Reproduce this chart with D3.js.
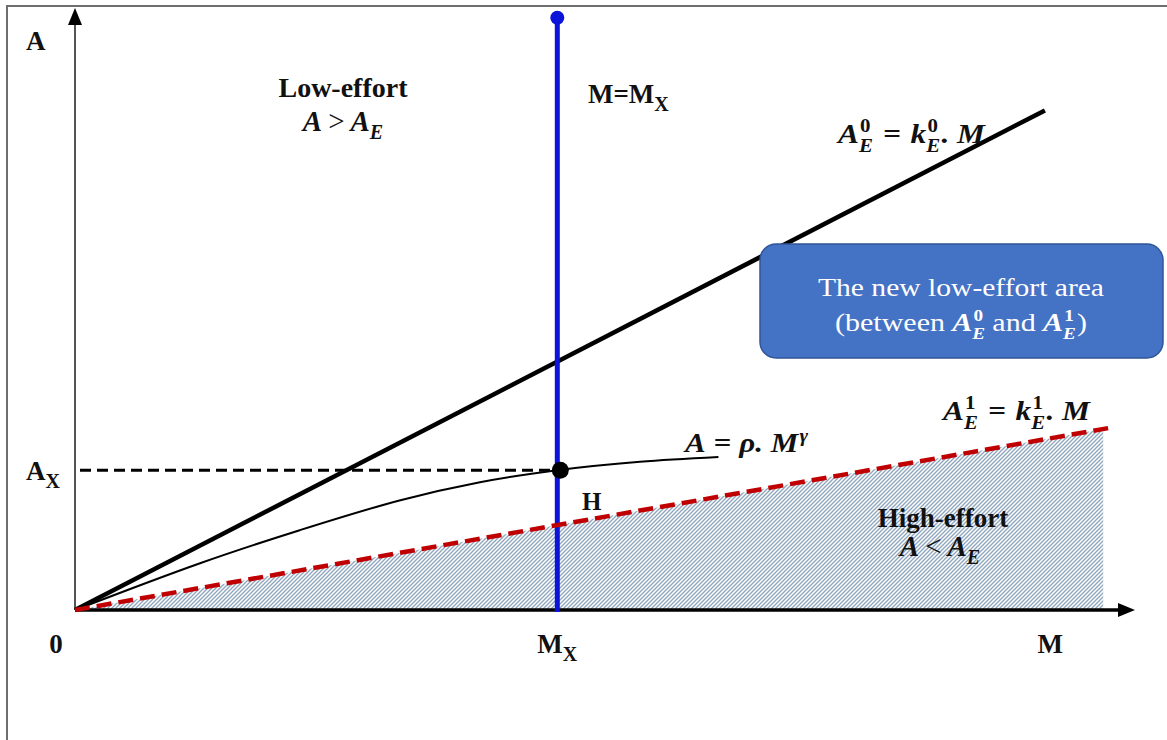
<!DOCTYPE html>
<html>
<head>
<meta charset="utf-8">
<script src="https://cdn.jsdelivr.net/npm/d3@7"></script>
<style>
  html, body { margin: 0; padding: 0; background: #fff; }
  svg { display: block; }
  text { font-family: "Liberation Serif", "Times New Roman", serif; }
</style>
</head>
<body>
<svg id="chart" width="1167" height="740"></svg>
<script>
// ---- values of the diagram (M on the horizontal axis, A on the vertical axis) ----
const axisMax = [10, 10];                 // [M max, A max]
const pointX = [4.55, 2.33];              // [M_X, A_X]
const thresholdSlopes = [0.910, 0.311];   // k_E^0, k_E^1
const thresholdEnds = [9.15, 9.81];       // M where each threshold line stops
const hatchEndM = 9.70;                   // right edge of the high-effort shading
const verticalTopA = 9.87;                // top of the M = M_X line
const curveM = [0, 1.18, 2.12, 3.07, 3.82, 4.55, 5.33, 6.07];
const curveA = [0, 0.78, 1.33, 1.83, 2.13, 2.33, 2.47, 2.55];
const xTickLabels = ["0", "M_X", "M"];

const svg = d3.select("#chart");
const W = 1167, H = 740;

const x = d3.scaleLinear().domain([0, axisMax[0]]).range([75, 1135]);
const y = d3.scaleLinear().domain([0, axisMax[1]]).range([610, 10]);

const defs = svg.append("defs");
const pat = defs.append("pattern")
  .attr("id", "hatch").attr("patternUnits", "userSpaceOnUse")
  .attr("width", 4).attr("height", 4);
pat.append("rect").attr("width", 4).attr("height", 4).attr("fill", "#ffffff");
pat.append("path")
  .attr("d", "M0,4 L4,0 M-1,1 L1,-1 M3,5 L5,3")
  .attr("stroke", "#8da4bd").attr("stroke-width", 1.3);

// outer frame
svg.append("path").attr("d", `M7,${H} L7,6 L${W},6`)
  .attr("fill", "none").attr("stroke", "#6e6e6e").attr("stroke-width", 2);

// high-effort region under A_E^1
const k0 = thresholdSlopes[0], k1 = thresholdSlopes[1];
svg.append("path")
  .datum([0, hatchEndM])
  .attr("d", d3.area().x(d => x(d)).y0(y(0)).y1(d => y(k1 * d)))
  .attr("fill", "url(#hatch)");

// axes
svg.append("line").attr("x1", x(0)).attr("y1", y(0)).attr("x2", x(0)).attr("y2", y(axisMax[1]) + 12)
  .attr("stroke", "#555").attr("stroke-width", 2);
svg.append("path")
  .attr("d", `M${x(0)},${y(axisMax[1]) - 2} L${x(0) - 7},${y(axisMax[1]) + 15} L${x(0) + 7},${y(axisMax[1]) + 15} Z`)
  .attr("fill", "#000");
svg.append("line").attr("x1", x(0)).attr("y1", y(0)).attr("x2", x(axisMax[0]) - 12).attr("y2", y(0))
  .attr("stroke", "#000").attr("stroke-width", 3.5);
svg.append("path")
  .attr("d", `M${x(axisMax[0])},${y(0)} L${x(axisMax[0]) - 17},${y(0) - 7} L${x(axisMax[0]) - 17},${y(0) + 7} Z`)
  .attr("fill", "#000");

const line = d3.line().x(d => x(d[0])).y(d => y(d[1]));

// A_E^0 = k_E^0 . M
svg.append("path").datum([[0, 0], [thresholdEnds[0], k0 * thresholdEnds[0]]])
  .attr("d", line).attr("fill", "none").attr("stroke", "#000").attr("stroke-width", 4.5);

// A = rho . M^gamma
svg.append("path").datum(curveM.map((m, i) => [m, curveA[i]]))
  .attr("d", d3.line().x(d => x(d[0])).y(d => y(d[1])).curve(d3.curveCatmullRom.alpha(0.5)))
  .attr("fill", "none").attr("stroke", "#000").attr("stroke-width", 2);

// dashed guide at A_X
svg.append("line").attr("x1", x(0) + 5).attr("x2", x(pointX[0])).attr("y1", y(pointX[1])).attr("y2", y(pointX[1]))
  .attr("stroke", "#000").attr("stroke-width", 3).attr("stroke-dasharray", "11,6");

// M = M_X
svg.append("line").attr("x1", x(pointX[0])).attr("x2", x(pointX[0]))
  .attr("y1", y(0) + 2).attr("y2", y(verticalTopA))
  .attr("stroke", "#0b14d8").attr("stroke-width", 5);
svg.append("circle").attr("cx", x(pointX[0])).attr("cy", y(verticalTopA)).attr("r", 7).attr("fill", "#0b14d8");

// A_E^1 = k_E^1 . M
svg.append("path").datum([[0, 0], [thresholdEnds[1], k1 * thresholdEnds[1]]])
  .attr("d", line).attr("fill", "none").attr("stroke", "#c00000")
  .attr("stroke-width", 4.5).attr("stroke-dasharray", "15,7");

// point on the curve
svg.append("circle").attr("cx", x(pointX[0]) + 3).attr("cy", y(pointX[1])).attr("r", 8.5).attr("fill", "#000");

// ---- text helpers ----
function font(sel, size, bold, italic, fill) {
  return sel.attr("font-size", size)
    .attr("font-weight", bold ? "bold" : "normal")
    .attr("font-style", italic ? "italic" : "normal")
    .attr("fill", fill || "#111");
}

// lays out a run of tokens; {t}, {sub}, {sup}, {stack:[sup, sub]}, {gap}
function mathText(cx, cy, tokens, opt) {
  const size = opt.size, small = opt.small || size * 0.68;
  const fill = opt.fill || "#111";
  const g = svg.append("g");
  let pos = 0;
  const put = (str, dx, dy, sz, b, it) => {
    const t = font(g.append("text"), sz, b, it, fill).attr("x", pos + dx).attr("y", dy).text(str);
    return t.node().getComputedTextLength();
  };
  tokens.forEach(tk => {
    const b = tk.b !== undefined ? tk.b : (opt.b !== undefined ? opt.b : true);
    const it = tk.i !== undefined ? tk.i : (opt.i !== undefined ? opt.i : true);
    if (tk.gap) { pos += tk.gap; }
    else if (tk.stack) {
      const w1 = put(tk.stack[0], 1, -size * 0.40, small, true, false);
      const w2 = put(tk.stack[1], 0, size * 0.32, small, true, true);
      pos += Math.max(w1, w2) + 1;
    } else if (tk.sub !== undefined) {
      pos += put(tk.sub, 0, size * 0.28, small, b, it);
    } else if (tk.sup !== undefined) {
      pos += put(tk.sup, 1, -size * 0.36, small, b, it) + 1;
    } else {
      pos += put(tk.t, 0, 0, size, b, it);
    }
  });
  let sx = 1;
  if (opt.width) sx = opt.width / pos;
  const x0 = opt.anchor === "middle" ? cx - pos * sx / 2 : cx;
  g.attr("transform", `translate(${x0},${cy}) scale(${sx},1)`);
  return g;
}

function plain(xp, yp, str, size, opt) {
  opt = opt || {};
  const t = font(svg.append("text"), size, opt.b !== false, !!opt.i, opt.fill)
    .attr("x", xp).attr("y", yp).attr("text-anchor", opt.anchor || "start").text(str);
  if (opt.width) t.attr("textLength", opt.width).attr("lengthAdjust", "spacingAndGlyphs");
  return t;
}

// axis labels
plain(26, 50, "A", 27);
mathText(26, 480, [{t: "A", i: false}, {sub: "X", i: false}], {size: 27, small: 20, i: false});
const tickPos = [0, pointX[0], axisMax[0] * 0.92];
xTickLabels.forEach((lab, i) => {
  const parts = lab.split("_");
  const toks = [{t: parts[0], i: false}];
  if (parts[1]) toks.push({sub: parts[1], i: false});
  const px = i === 0 ? x(0) - 19 : x(tickPos[i]);
  mathText(px, 653, toks, {size: 27, small: 20, i: false, anchor: "middle"});
});

// region labels
plain(343, 97, "Low-effort", 28, {anchor: "middle"});
mathText(343, 131, [{t: "A"}, {gap: 6}, {t: ">", i: false, b: false}, {gap: 6}, {t: "A"}, {sub: "E"}], {size: 29, small: 20, anchor: "middle"});
mathText(588, 103, [{t: "M=M", i: false}, {sub: "X", i: false}], {size: 27, small: 20, i: false});
plain(943, 527, "High-effort", 27, {anchor: "middle"});
mathText(940, 556, [{t: "A"}, {gap: 6}, {t: "<", i: false, b: false}, {gap: 6}, {t: "A"}, {sub: "E"}], {size: 29, small: 20, anchor: "middle"});
plain(582, 510, "H", 25);

// line equations
mathText(838, 143, [{t: "A"}, {stack: ["0", "E"]}, {gap: 8}, {t: "=", i: false}, {gap: 8}, {t: "k"}, {stack: ["0", "E"]}, {t: ". M"}], {size: 27, small: 18, width: 147});
mathText(943, 420, [{t: "A"}, {stack: ["1", "E"]}, {gap: 8}, {t: "=", i: false}, {gap: 8}, {t: "k"}, {stack: ["1", "E"]}, {t: ". M"}], {size: 27, small: 18, width: 147});
mathText(685, 452, [{t: "A"}, {gap: 7}, {t: "=", i: false}, {gap: 7}, {t: "ρ. M"}, {sup: "γ"}], {size: 27, small: 18, width: 123});

// callout box
svg.append("rect").attr("x", 760).attr("y", 244).attr("width", 403).attr("height", 114)
  .attr("rx", 16).attr("fill", "#4472c4").attr("stroke", "#2f5597").attr("stroke-width", 1.5);
plain(961, 296, "The new low-effort area", 25, {b: false, fill: "#fff", anchor: "middle", width: 286});
mathText(961, 331, [
  {t: "(between", b: false, i: false}, {gap: 6}, {t: "A"}, {stack: ["0", "E"]}, {gap: 5},
  {t: "and", b: false, i: false}, {gap: 6}, {t: "A"}, {stack: ["1", "E"]}, {t: ")", b: false, i: false}
], {size: 25, small: 16, fill: "#fff", anchor: "middle", width: 252});
</script>
</body>
</html>
